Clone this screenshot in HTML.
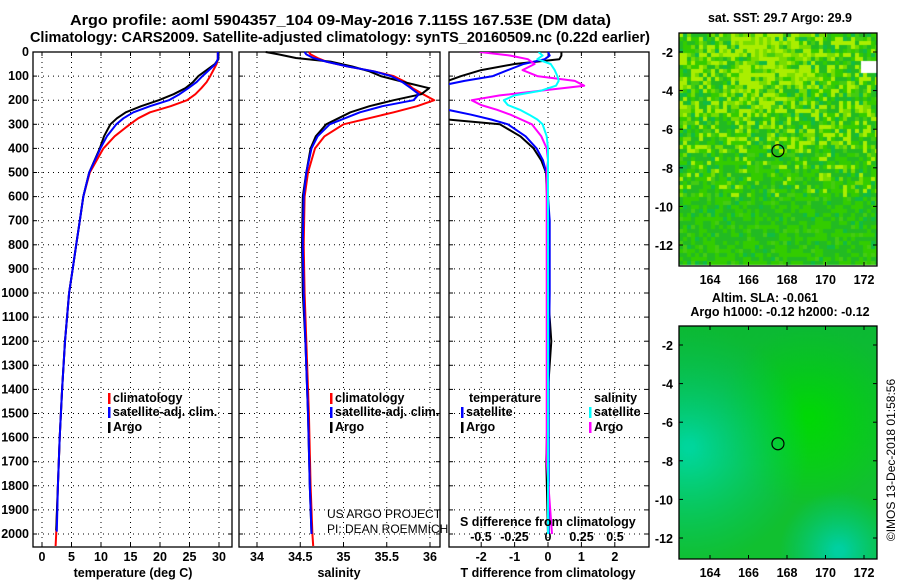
<!DOCTYPE html>
<html><head><meta charset="utf-8"><style>
body{margin:0;background:#fff;width:900px;height:580px;overflow:hidden;font-family:"Liberation Sans",sans-serif}
svg{position:absolute;left:0;top:0}
text{font-family:"Liberation Sans",sans-serif;font-weight:bold;font-size:12.5px;fill:#000}
canvas{position:absolute}
</style></head><body>
<canvas id="m1" width="198" height="233" style="left:679px;top:33px"></canvas>
<canvas id="m2" width="198" height="233" style="left:679px;top:326px"></canvas>
<svg id="s" width="900" height="580"></svg>
<script>
// ---- data ----
const depthT = [0,30,50,100,125,150,175,200,225,250,275,300,350,400,500,600,700,800,900,1000,1200,1400,1600,1800,2000,2050];
const tempClim = [29.8,29.8,29.6,28.5,27.9,27.0,26.0,24.6,21.8,18.3,16.3,14.9,12.3,10.4,8.1,7.0,6.4,5.8,5.2,4.6,3.9,3.4,3.0,2.7,2.4,2.3];
const tempSat  = [29.8,29.8,29.4,27.2,26.2,24.8,23.3,21.5,18.3,15.5,13.8,12.6,11.0,9.9,8.0,7.0,6.4,5.8,5.2,4.6,3.9,3.4,3.0,2.7,2.5,2.4];
const tempArgo = [29.9,29.9,29.3,26.5,25.6,24.3,22.3,19.8,16.8,14.2,12.7,11.6,10.5,9.8,8.0,7.0,6.4,5.8,5.2,4.6,3.9,3.4,3.0,2.7,2.4];
const depthS = [0,10,25,40,60,80,100,125,150,175,200,225,250,300,350,400,500,600,800,1000,1200,1500,1800,2000,2050];
const salClim = [34.6,34.62,34.7,34.8,35.05,35.35,35.58,35.72,35.80,35.92,36.05,35.85,35.58,35.00,34.78,34.67,34.59,34.55,34.54,34.55,34.57,34.60,34.62,34.64,34.65];
const salSat  = [34.55,34.57,34.65,34.8,35.05,35.35,35.55,35.68,35.78,35.87,35.81,35.45,35.19,34.84,34.70,34.63,34.57,34.54,34.53,34.54,34.56,34.59,34.61,34.63,34.64];
const salArgo = [34.1,34.25,34.45,34.85,35.1,35.3,35.43,35.7,35.99,35.9,35.58,35.3,35.08,34.8,34.68,34.62,34.57,34.53,34.52,34.53,34.56,34.59,34.61,34.63];
const depthD = [0,15,30,50,75,100,120,140,160,180,200,220,240,260,280,300,350,400,450,500,700,1000,1200,1400,1700,2000];
const tdSat  = [0,0.05,-0.1,-0.73,-1.2,-1.65,-2.5,-3.2,-3.5,-3.5,-3.5,-3.3,-3.0,-2.3,-1.7,-1.2,-0.67,-0.34,-0.15,-0.05,0.05,0.05,0.03,0.02,0.02,0.02];
const tdArgo = [0.4,0.4,0.34,-1.0,-2.0,-2.6,-3.0,-3.5,-3.5,-3.5,-3.5,-3.5,-3.5,-3.4,-3.0,-1.44,-0.83,-0.43,-0.2,-0.06,0.0,0.0,0.1,0.0,-0.05,0.0];
const sdSat  = [-0.07,-0.04,-0.08,0.02,0.05,0.07,0.08,0.06,-0.05,-0.25,-0.33,-0.3,-0.21,-0.14,-0.08,-0.04,-0.01,0,0.0,0.0,0.0,0.0,0.0,0.0,0.0,0.0];
const sdArgo = [-0.51,-0.28,-0.15,-0.1,-0.19,-0.08,0.2,0.27,-0.05,-0.36,-0.57,-0.5,-0.38,-0.28,-0.2,-0.12,-0.05,-0.01,0,-0.01,-0.01,-0.01,-0.01,-0.01,-0.01,0.03];
const tTicks=[0,5,10,15,20,25,30], sTicks=[34,34.5,35,35.5,36], dTicks=[-2,-1,0,1,2];
// ---- axes ----
const Y=d=>52+d*0.241;
const xT=v=>42+v*5.9, xS=v=>257+(v-34)*86.5, xTD=v=>548+v*33.4, xSD=v=>548+v*134;
const S=document.getElementById('s');const NS='http://www.w3.org/2000/svg';
function el(t,a,p){const e=document.createElementNS(NS,t);for(const k in a)e.setAttribute(k,a[k]);(p||S).appendChild(e);return e;}
function tx(x,y,s,anc,extra){const e=el('text',Object.assign({x:x,y:y,'text-anchor':anc||'start'},extra||{}));e.textContent=s;return e;}
const panels=[[33,232],[239,440],[449,649]];
const TOP=52,BOT=547;
el('clipPath',{id:'c3'}).appendChild(el('rect',{x:449,y:52,width:200,height:495}));
panels.forEach((p,i)=>{
  const g=el('g',{});
  
  
  for(let d=100;d<=2000;d+=100)el('line',{x1:p[0],x2:p[1],y1:Y(d),y2:Y(d),stroke:'#000','stroke-dasharray':'1,4','stroke-width':1},g);
  el('rect',{x:p[0],y:TOP,width:p[1]-p[0],height:BOT-TOP,fill:'none',stroke:'#000','stroke-width':1.3},g);
  for(let d=0;d<=2000;d+=100){el('line',{x1:p[0],x2:p[0]+4,y1:Y(d),y2:Y(d),stroke:'#000'},g);el('line',{x1:p[1]-4,x2:p[1],y1:Y(d),y2:Y(d),stroke:'#000'},g);}
});
for(let d=0;d<=2000;d+=100){const t=tx(29,Y(d)+4,String(d),'end');}
function vgrid(arr,f){arr.forEach(v=>{el('line',{x1:f(v),x2:f(v),y1:TOP,y2:BOT,stroke:'#000','stroke-dasharray':'1,4'});el('line',{x1:f(v),x2:f(v),y1:BOT-4,y2:BOT,stroke:'#000'});el('line',{x1:f(v),x2:f(v),y1:TOP,y2:TOP+4,stroke:'#000'});});}
vgrid(tTicks,xT);vgrid(sTicks,xS);vgrid(dTicks,xTD);
tTicks.forEach(v=>{const t=tx(xT(v),561,String(v),'middle');});
sTicks.forEach(v=>{const t=tx(xS(v),561,String(v),'middle');});
dTicks.forEach(v=>{const t=tx(xTD(v),561,String(v),'middle');});
[[-0.5,'-0.5'],[-0.25,'-0.25'],[0,'0'],[0.25,'0.25'],[0.5,'0.5']].forEach(a=>{const t=tx(xSD(a[0]),541,a[1],'middle');});
function line(ds,vs,f,col,w,clip){const pts=vs.map((v,i)=>f(v).toFixed(1)+','+Y(ds[i]).toFixed(1)).join(' ');const a={points:pts,fill:'none',stroke:col,'stroke-width':w||2,'stroke-linejoin':'round'};if(clip)a['clip-path']='url(#c3)';return el('polyline',a);}
let l;
l=line(depthT,tempClim,xT,'#f00');
l=line(depthT.slice(0,tempArgo.length).map((d,i)=>i==tempArgo.length-1?1985:d),tempArgo,xT,'#000');
l=line(depthT.slice(0,25).map((d,i)=>i==24?1990:d),tempSat.slice(0,25),xT,'#00f');
l=line(depthS,salClim,xS,'#f00');
l=line(depthS.slice(0,salArgo.length),salArgo,xS,'#000');
l=line(depthS.slice(0,24),salSat.slice(0,24),xS,'#00f');
l=line(depthD,tdArgo,xTD,'#000',2,true);
l=line(depthD,tdSat,xTD,'#00f',2,true);
l=line(depthD,sdArgo,xSD,'#f0f',2,true);
l=line(depthD,sdSat,xSD,'#0ff',2,true);
// legends
function leg(x,y,col,s,name){el('rect',{x:x,y:y-9,width:2.5,height:11,fill:col});const t=tx(x+5,y,s);}
leg(108,402,'#f00','climatology','legend-climatology');leg(108,416,'#00f','satellite-adj. clim.','legend-satellite');leg(108,431,'#000','Argo','legend-argo');
leg(330,402,'#f00','climatology','legend-sal-climatology');leg(330,416,'#00f','satellite-adj. clim.','legend-sal-satellite');leg(330,431,'#000','Argo','legend-sal-argo');
tx(469,402,'temperature');tx(594,402,'salinity');
leg(461,416,'#00f','satellite','legend-td-satellite');leg(461,431,'#000','Argo','legend-td-argo');
leg(589,416,'#0ff','satellite','legend-sd-satellite');leg(589,431,'#f0f','Argo','legend-sd-argo');
tx(327,518,'US ARGO PROJECT','start',{style:'font-weight:normal;font-size:12px'});
tx(327,533,'PI: DEAN ROEMMICH','start',{style:'font-weight:normal;font-size:12px'});
tx(460,526,'S difference from climatology');
let t;
t=tx(133,577,'temperature (deg C)','middle');
t=tx(339,577,'salinity','middle');
t=tx(548,577,'T difference from climatology','middle');
t=tx(70,25,'Argo profile: aoml 5904357_104 09-May-2016 7.115S 167.53E (DM data)','start',{style:'font-size:14.5px',textLength:541,lengthAdjust:'spacingAndGlyphs'});
t=tx(30,42,'Climatology: CARS2009. Satellite-adjusted climatology: synTS_20160509.nc (0.22d earlier)','start',{style:'font-size:14.5px',textLength:620,lengthAdjust:'spacingAndGlyphs'});
// maps
const lonT=[164,166,168,170,172], latT=[-2,-4,-6,-8,-10,-12];
const mx=v=>710+(v-164)*19.25;
function mapAxes(top,lab){
  el('rect',{x:679,y:top,width:198,height:233,fill:'none',stroke:'#000','stroke-width':1.3});
  lonT.forEach(v=>{el('line',{x1:mx(v),x2:mx(v),y1:top,y2:top+4,stroke:'#000'});el('line',{x1:mx(v),x2:mx(v),y1:top+229,y2:top+233,stroke:'#000'});const t=tx(mx(v),top+251,String(v),'middle');});
  latT.forEach(v=>{const y=top+19+(-2-v)*19.3;el('line',{x1:679,x2:683,y1:y,y2:y,stroke:'#000'});el('line',{x1:873,x2:877,y1:y,y2:y,stroke:'#000'});const t=tx(673,y+5,String(v),'end');});
  el('circle',{cx:mx(167.53),cy:top+19+(7.115-2)*19.3,r:6,fill:'none',stroke:'#000','stroke-width':1.2});
}
mapAxes(33);mapAxes(326);
tx(780,22,'sat. SST: 29.7 Argo: 29.9','middle');
tx(765,302,'Altim. SLA: -0.061','middle');
tx(780,316,'Argo h1000: -0.12 h2000: -0.12','middle');
tx(0,0,'©IMOS 13-Dec-2018 01:58:56','middle',{transform:'translate(895,460) rotate(-90)',style:'font-weight:normal;font-size:12px'});
// map rasters (image texture)
let seed=7;const rnd=()=>(seed=(seed*16807)%2147483647)/2147483647;
const c1=document.getElementById('m1').getContext('2d');
for(let j=0;j<58;j++)for(let i=0;i<50;i++){
  const x=i*4,y=j*4;
  let py=Math.max(0,1-Math.hypot((i-22)/18,(j-5)/22));
  let p=0.15+0.7*py+(j<30?0.2:0)-(j>40?0.15:0);
  const r=rnd();let col;
  if(r<p*0.6)col='#aaee00';else if(r<p*0.9)col='#77dd00';else if(r<0.85)col=(rnd()<0.5?'#33cc00':'#22bb22');else col=(rnd()<0.5?'#11bb44':'#44cc11');
  c1.fillStyle=col;c1.fillRect(x,y,4,4);
}
c1.fillStyle='#fff';c1.fillRect(182,28,16,12);
const c2=document.getElementById('m2').getContext('2d');
c2.fillStyle='#11c030';c2.fillRect(0,0,198,233);
let g=c2.createRadialGradient(130,90,5,130,90,90);g.addColorStop(0,'#00dd00');g.addColorStop(1,'rgba(0,220,0,0)');c2.fillStyle=g;c2.fillRect(0,0,198,233);
g=c2.createRadialGradient(10,120,5,10,120,120);g.addColorStop(0,'#00d8a0');g.addColorStop(1,'rgba(0,200,120,0)');c2.fillStyle=g;c2.fillRect(0,0,198,233);
g=c2.createRadialGradient(160,225,5,160,225,60);g.addColorStop(0,'#00d0a0');g.addColorStop(1,'rgba(0,200,140,0)');c2.fillStyle=g;c2.fillRect(0,0,198,233);
g=c2.createLinearGradient(0,0,0,233);g.addColorStop(0,'rgba(0,170,60,0.3)');g.addColorStop(0.6,'rgba(0,170,60,0)');c2.fillStyle=g;c2.fillRect(0,0,198,233);
</script>
</body></html>
